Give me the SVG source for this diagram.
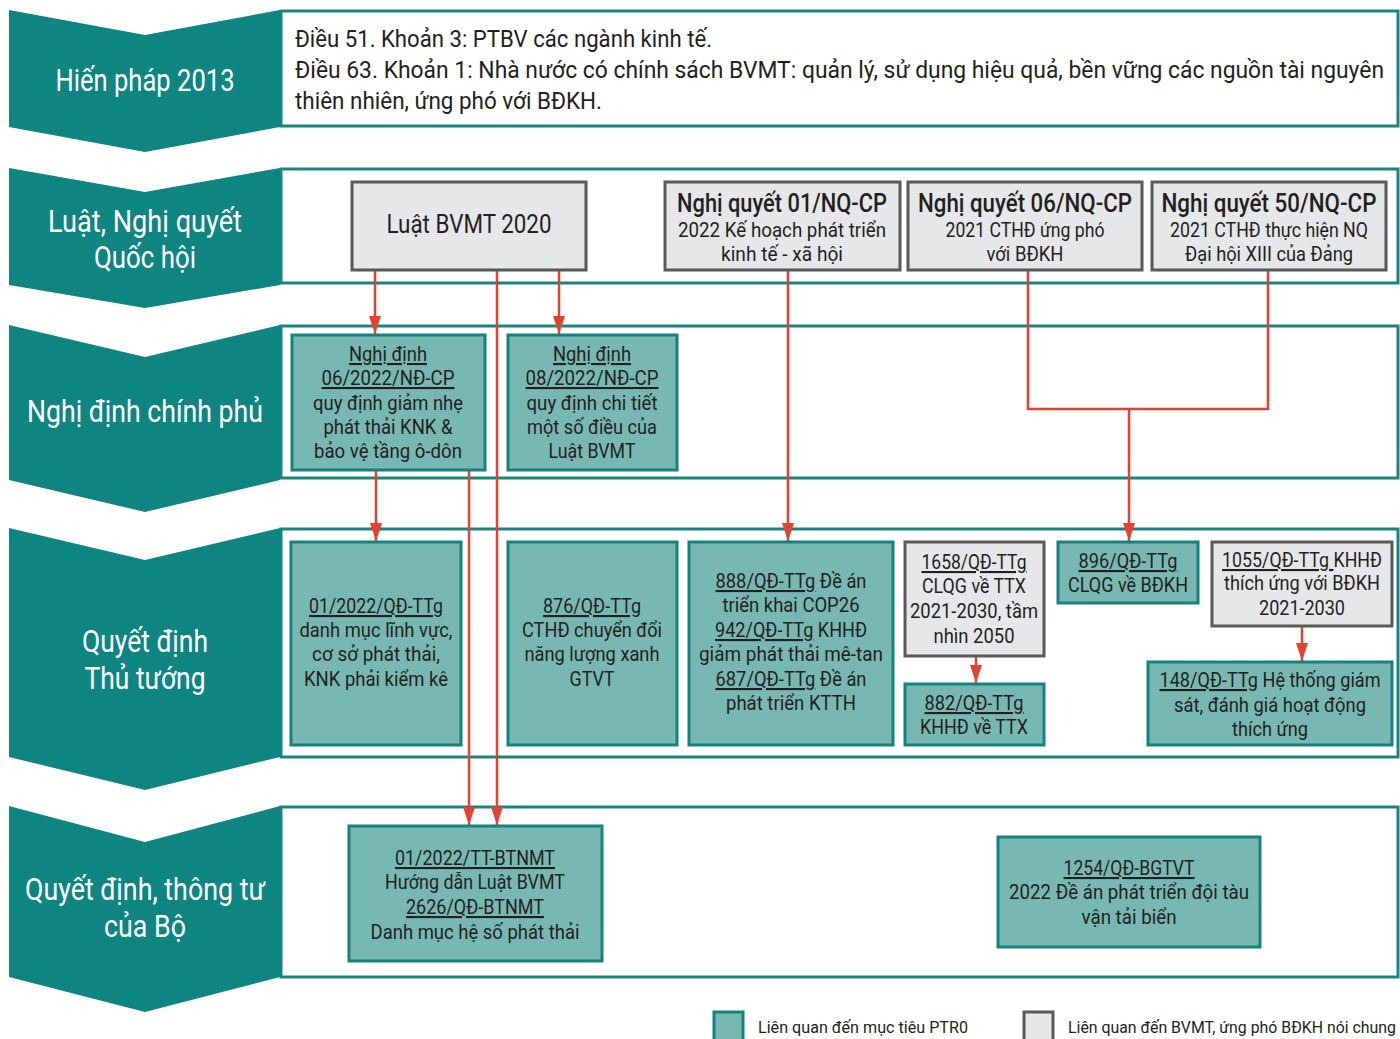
<svg xmlns="http://www.w3.org/2000/svg" width="1400" height="1039" viewBox="0 0 1400 1039">
<style>
text{font-family:Roboto,"Liberation Sans",sans-serif;fill:#231f20}
.chev{fill:#0e8581}
.clab{fill:#ffffff;font-size:32px;text-anchor:middle}
.band{fill:#ffffff;stroke:#17847f;stroke-width:3}
.teal{fill:#77b8b2;stroke:#14827d;stroke-width:3}
.gray{fill:#e6e7e8;stroke:#58595b;stroke-width:3}
.t{font-size:21px;text-anchor:middle}
.hd{font-size:26px;text-anchor:middle;font-weight:500}
.u{text-decoration:underline}
.con{stroke:#e8402e;stroke-width:2.5;fill:none}
.leg{font-size:17px}
</style>
<defs>
<marker id="ah" viewBox="0 0 18 12" refX="18" refY="6" markerWidth="18" markerHeight="12" markerUnits="userSpaceOnUse" orient="auto">
<path d="M0,0 L18,6 L0,12 Z" fill="#e8402e"/>
</marker>
</defs>

<g id="row-hienphap">
<polygon class="chev" points="9,10 145,35 280,10 280,127 145,152 9,127"/>
<text class="clab" x="145" y="91" textLength="179" lengthAdjust="spacingAndGlyphs">Hiến pháp 2013</text>
<rect class="band" x="281" y="11" width="1117" height="115"/>
<text x="295" y="47" font-size="24" textLength="417" lengthAdjust="spacingAndGlyphs">Điều 51. Khoản 3: PTBV các ngành kinh tế.</text>
<text x="295" y="78" font-size="24" textLength="1089" lengthAdjust="spacingAndGlyphs">Điều 63. Khoản 1: Nhà nước có chính sách BVMT: quản lý, sử dụng hiệu quả, bền vững các nguồn tài nguyên</text>
<text x="295" y="109" font-size="24" textLength="307" lengthAdjust="spacingAndGlyphs">thiên nhiên, ứng phó với BĐKH.</text>
</g>

<g id="row-luat">
<polygon class="chev" points="9,168 145,192 280,168 280,285 145,308 9,285"/>
<text class="clab" x="145" y="232" textLength="194" lengthAdjust="spacingAndGlyphs">Luật, Nghị quyết</text>
<text class="clab" x="145" y="268" textLength="102" lengthAdjust="spacingAndGlyphs">Quốc hội</text>
<rect class="band" x="281" y="169" width="1117" height="114"/>
</g>

<g id="row-nghidinh">
<polygon class="chev" points="9,325 145,357 280,325 280,480 145,512 9,480"/>
<text class="clab" x="145" y="422" textLength="236" lengthAdjust="spacingAndGlyphs">Nghị định chính phủ</text>
<rect class="band" x="281" y="326" width="1117" height="152"/>
</g>

<g id="row-qdttg">
<polygon class="chev" points="9,528 145,560 280,528 280,757 145,790 9,757"/>
<text class="clab" x="145" y="652" textLength="126" lengthAdjust="spacingAndGlyphs">Quyết định</text>
<text class="clab" x="145" y="689" textLength="121" lengthAdjust="spacingAndGlyphs">Thủ tướng</text>
<rect class="band" x="281" y="529" width="1117" height="228"/>
</g>

<g id="row-bo">
<polygon class="chev" points="9,806 145,842 280,806 280,977 145,1012 9,977"/>
<text class="clab" x="145" y="900" textLength="240" lengthAdjust="spacingAndGlyphs">Quyết định, thông tư</text>
<text class="clab" x="145" y="937" textLength="82" lengthAdjust="spacingAndGlyphs">của Bộ</text>
<rect class="band" x="281" y="807" width="1117" height="170"/>
</g>

<g id="connectors">
<line class="con" x1="375" y1="271" x2="375" y2="334" marker-end="url(#ah)"/>
<line class="con" x1="559" y1="271" x2="559" y2="334" marker-end="url(#ah)"/>
<line class="con" x1="497" y1="271" x2="497" y2="825" marker-end="url(#ah)"/>
<line class="con" x1="376" y1="471" x2="376" y2="541" marker-end="url(#ah)"/>
<line class="con" x1="469" y1="471" x2="469" y2="825" marker-end="url(#ah)"/>
<line class="con" x1="788" y1="271" x2="788" y2="541" marker-end="url(#ah)"/>
<polyline class="con" points="1028,271 1028,409 1268,409 1268,271"/>
<line class="con" x1="1129" y1="409" x2="1129" y2="541" marker-end="url(#ah)"/>
<line class="con" x1="976" y1="657" x2="976" y2="683" marker-end="url(#ah)"/>
<line class="con" x1="1302" y1="627" x2="1302" y2="661" marker-end="url(#ah)"/>
</g>

<g id="luat-bvmt">
<rect class="gray" x="352" y="182" width="234" height="88"/>
<text x="469" y="233" font-size="25" text-anchor="middle" textLength="165" lengthAdjust="spacingAndGlyphs">Luật BVMT 2020</text>
</g>
<g id="nq-01">
<rect class="gray" x="665" y="182" width="235" height="88"/>
<text class="hd" x="782" y="212" textLength="210" lengthAdjust="spacingAndGlyphs">Nghị quyết 01/NQ-CP</text>
<text class="t" x="782" y="237" textLength="208" lengthAdjust="spacingAndGlyphs">2022 Kế hoạch phát triển</text>
<text class="t" x="782" y="261" textLength="122" lengthAdjust="spacingAndGlyphs">kinh tế - xã hội</text>
</g>
<g id="nq-06">
<rect class="gray" x="908" y="182" width="234" height="88"/>
<text class="hd" x="1025" y="212" textLength="214" lengthAdjust="spacingAndGlyphs">Nghị quyết 06/NQ-CP</text>
<text class="t" x="1025" y="237" textLength="159" lengthAdjust="spacingAndGlyphs">2021 CTHĐ ứng phó</text>
<text class="t" x="1025" y="261" textLength="77" lengthAdjust="spacingAndGlyphs">với BĐKH</text>
</g>
<g id="nq-50">
<rect class="gray" x="1152" y="182" width="234" height="88"/>
<text class="hd" x="1269" y="212" textLength="215" lengthAdjust="spacingAndGlyphs">Nghị quyết 50/NQ-CP</text>
<text class="t" x="1269" y="237" textLength="198" lengthAdjust="spacingAndGlyphs">2021 CTHĐ thực hiện NQ</text>
<text class="t" x="1269" y="261" textLength="168" lengthAdjust="spacingAndGlyphs">Đại hội XIII của Đảng</text>
</g>

<g id="nd-06">
<rect class="teal" x="292" y="335" width="193" height="135"/>
<text class="t u" x="388" y="361" textLength="78" lengthAdjust="spacingAndGlyphs">Nghị định</text>
<text class="t u" x="388" y="385" textLength="133" lengthAdjust="spacingAndGlyphs">06/2022/NĐ-CP</text>
<text class="t" x="388" y="410" textLength="150" lengthAdjust="spacingAndGlyphs">quy định giảm nhẹ</text>
<text class="t" x="388" y="434" textLength="129" lengthAdjust="spacingAndGlyphs">phát thải KNK &amp;</text>
<text class="t" x="388" y="458" textLength="148" lengthAdjust="spacingAndGlyphs">bảo vệ tầng ô-dôn</text>
</g>
<g id="nd-08">
<rect class="teal" x="508" y="335" width="169" height="135"/>
<text class="t u" x="592" y="361" textLength="78" lengthAdjust="spacingAndGlyphs">Nghị định</text>
<text class="t u" x="592" y="385" textLength="133" lengthAdjust="spacingAndGlyphs">08/2022/NĐ-CP</text>
<text class="t" x="592" y="410" textLength="131" lengthAdjust="spacingAndGlyphs">quy định chi tiết</text>
<text class="t" x="592" y="434" textLength="130" lengthAdjust="spacingAndGlyphs">một số điều của</text>
<text class="t" x="592" y="458" textLength="87" lengthAdjust="spacingAndGlyphs">Luật BVMT</text>
</g>

<g id="qd-01-2022">
<rect class="teal" x="291" y="542" width="170" height="203"/>
<text class="t u" x="376" y="613" textLength="134" lengthAdjust="spacingAndGlyphs">01/2022/QĐ-TTg</text>
<text class="t" x="376" y="637" textLength="153" lengthAdjust="spacingAndGlyphs">danh mục lĩnh vực,</text>
<text class="t" x="376" y="661" textLength="128" lengthAdjust="spacingAndGlyphs">cơ sở phát thải,</text>
<text class="t" x="376" y="686" textLength="144" lengthAdjust="spacingAndGlyphs">KNK phải kiểm kê</text>
</g>
<g id="qd-876">
<rect class="teal" x="508" y="542" width="169" height="203"/>
<text class="t u" x="592" y="613" textLength="98" lengthAdjust="spacingAndGlyphs">876/QĐ-TTg</text>
<text class="t" x="592" y="637" textLength="140" lengthAdjust="spacingAndGlyphs">CTHĐ chuyển đổi</text>
<text class="t" x="592" y="661" textLength="135" lengthAdjust="spacingAndGlyphs">năng lượng xanh</text>
<text class="t" x="592" y="686" textLength="45" lengthAdjust="spacingAndGlyphs">GTVT</text>
</g>
<g id="qd-888">
<rect class="teal" x="689" y="542" width="204" height="203"/>
<text class="t" x="791" y="588" textLength="151" lengthAdjust="spacingAndGlyphs"><tspan class="u">888/QĐ-TTg</tspan> Đề án</text>
<text class="t" x="791" y="612" textLength="137" lengthAdjust="spacingAndGlyphs">triển khai COP26</text>
<text class="t" x="791" y="637" textLength="152" lengthAdjust="spacingAndGlyphs"><tspan class="u">942/QĐ-TTg</tspan> KHHĐ</text>
<text class="t" x="791" y="661" textLength="184" lengthAdjust="spacingAndGlyphs">giảm phát thải mê-tan</text>
<text class="t" x="791" y="686" textLength="151" lengthAdjust="spacingAndGlyphs"><tspan class="u">687/QĐ-TTg</tspan> Đề án</text>
<text class="t" x="791" y="710" textLength="130" lengthAdjust="spacingAndGlyphs">phát triển KTTH</text>
</g>
<g id="qd-1658">
<rect class="gray" x="905" y="542" width="139" height="114"/>
<text class="t u" x="974" y="569" textLength="105" lengthAdjust="spacingAndGlyphs">1658/QĐ-TTg</text>
<text class="t" x="974" y="593" textLength="104" lengthAdjust="spacingAndGlyphs">CLQG về TTX</text>
<text class="t" x="974" y="618" textLength="128" lengthAdjust="spacingAndGlyphs">2021-2030, tầm</text>
<text class="t" x="974" y="643" textLength="81" lengthAdjust="spacingAndGlyphs">nhìn 2050</text>
</g>
<g id="qd-882">
<rect class="teal" x="905" y="684" width="139" height="61"/>
<text class="t u" x="974" y="710" textLength="99" lengthAdjust="spacingAndGlyphs">882/QĐ-TTg</text>
<text class="t" x="974" y="734" textLength="108" lengthAdjust="spacingAndGlyphs">KHHĐ về TTX</text>
</g>
<g id="qd-896">
<rect class="teal" x="1058" y="542" width="140" height="61"/>
<text class="t u" x="1128" y="568" textLength="99" lengthAdjust="spacingAndGlyphs">896/QĐ-TTg</text>
<text class="t" x="1128" y="592" textLength="120" lengthAdjust="spacingAndGlyphs">CLQG về BĐKH</text>
</g>
<g id="qd-1055">
<rect class="gray" x="1212" y="542" width="180" height="84"/>
<text class="t" x="1302" y="567" textLength="160" lengthAdjust="spacingAndGlyphs"><tspan class="u">1055/QĐ-TTg </tspan>KHHĐ</text>
<text class="t" x="1302" y="590" textLength="156" lengthAdjust="spacingAndGlyphs">thích ứng với BĐKH</text>
<text class="t" x="1302" y="615" textLength="86" lengthAdjust="spacingAndGlyphs">2021-2030</text>
</g>
<g id="qd-148">
<rect class="teal" x="1148" y="662" width="244" height="83"/>
<text class="t" x="1270" y="687" textLength="221" lengthAdjust="spacingAndGlyphs"><tspan class="u">148/QĐ-TTg</tspan> Hệ thống giám</text>
<text class="t" x="1270" y="712" textLength="192" lengthAdjust="spacingAndGlyphs">sát, đánh giá hoạt động</text>
<text class="t" x="1270" y="736" textLength="76" lengthAdjust="spacingAndGlyphs">thích ứng</text>
</g>

<g id="tt-01-2022">
<rect class="teal" x="349" y="826" width="253" height="135"/>
<text class="t u" x="475" y="865" textLength="160" lengthAdjust="spacingAndGlyphs">01/2022/TT-BTNMT</text>
<text class="t" x="475" y="889" textLength="180" lengthAdjust="spacingAndGlyphs">Hướng dẫn Luật BVMT</text>
<text class="t u" x="475" y="914" textLength="138" lengthAdjust="spacingAndGlyphs">2626/QĐ-BTNMT</text>
<text class="t" x="475" y="939" textLength="209" lengthAdjust="spacingAndGlyphs">Danh mục hệ số phát thải</text>
</g>
<g id="qd-1254">
<rect class="teal" x="998" y="837" width="262" height="110"/>
<text class="t u" x="1129" y="875" textLength="131" lengthAdjust="spacingAndGlyphs">1254/QĐ-BGTVT</text>
<text class="t" x="1129" y="899" textLength="240" lengthAdjust="spacingAndGlyphs">2022 Đề án phát triển đội tàu</text>
<text class="t" x="1129" y="924" textLength="95" lengthAdjust="spacingAndGlyphs">vận tải biển</text>
</g>

<g id="legend">
<rect class="teal" x="714" y="1012" width="29" height="30"/>
<text class="leg" x="758" y="1033" textLength="210" lengthAdjust="spacingAndGlyphs">Liên quan đến mục tiêu PTR0</text>
<rect class="gray" x="1024" y="1012" width="29" height="30"/>
<text class="leg" x="1068" y="1033" textLength="328" lengthAdjust="spacingAndGlyphs">Liên quan đến BVMT, ứng phó BĐKH nói chung</text>
</g>
</svg>
